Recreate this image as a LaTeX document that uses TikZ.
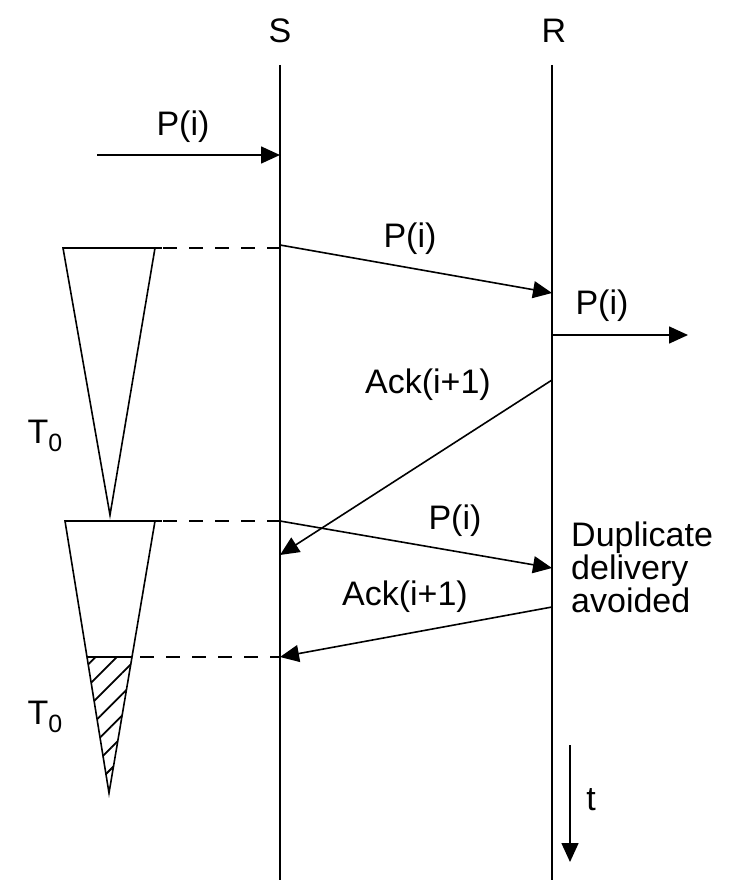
\documentclass[tikz,border=0pt]{standalone}
\usepackage{fontspec}
\setmainfont{Liberation Sans}
\usetikzlibrary{arrows.meta, patterns.meta}

\newcommand{\subzero}{\raisebox{-0.45ex}{\fontsize{25}{25}\selectfont 0}}

\begin{document}
\begin{tikzpicture}[x=1pt, y=-1pt,
  lbl/.style={font=\fontsize{34}{31}\selectfont, inner sep=0pt},
  msg/.style={line width=1.6pt, -{Triangle[length=19pt, width=17pt]}},
  life/.style={line width=1.6pt},
  dashline/.style={line width=1.6pt, dash pattern=on 14pt off 12pt},
  timer/.style={line width=1.6pt, line join=miter}
]
  \useasboundingbox (0,0) rectangle (734,880);

  % sender and receiver
  \node[lbl] (S) at (280,31) {S};
  \node[lbl] (R) at (554,31) {R};
  \coordinate (S-top) at (280,65);
  \coordinate (S-bot) at (280,880);
  \coordinate (R-top) at (552,65);
  \coordinate (R-bot) at (552,880);
  \draw[life] (S-top) -- (S-bot);
  \draw[life] (R-top) -- (R-bot);

  % points on the lines
  \coordinate (in) at (97,155);
  \coordinate (s1) at (280,155);
  \coordinate (s2) at (280,245);
  \coordinate (r1) at (552,293);
  \coordinate (r2) at (552,335);
  \coordinate (out) at (688,335);
  \coordinate (r3) at (552,380);
  \coordinate (s3) at (280,555);
  \coordinate (s4) at (280,521);
  \coordinate (r4) at (552,568);
  \coordinate (r5) at (552,607);
  \coordinate (s5) at (280,657);

  % messages
  \draw[msg] (in) -- (s1);
  \node[lbl] (p1) at (183,127) {P(i)};
  \draw[msg] (s2) -- (r1);
  \node[lbl] (p2) at (410,239) {P(i)};
  \draw[msg] (r2) -- (out);
  \node[lbl] (p3) at (602,306) {P(i)};
  \draw[msg] (r3) -- (s3);
  \node[lbl] (a1) at (428,385) {Ack(i+1)};
  \draw[msg] (s4) -- (r4);
  \node[lbl] (p4) at (455,521) {P(i)};
  \draw[msg] (r5) -- (s5);
  \node[lbl] (a2) at (405,597) {Ack(i+1)};

  \node[lbl, anchor=north west, align=left] (dup) at (571,522)
    {Duplicate\\delivery\\avoided};

  % timers
  \coordinate (t1-l) at (63,248);
  \coordinate (t1-r) at (155,248);
  \coordinate (t1-tip) at (110,515);
  \draw[timer] (t1-l) -- (t1-r) -- (t1-tip) -- cycle;
  \draw[timer] (t1-r) -- ++(7,0);
  \draw[dashline] (t1-r) ++(8,0) -- (280,248);
  \node[lbl] (T1) at (45,436) {T\subzero};

  \coordinate (t2-l) at (65,521);
  \coordinate (t2-r) at (155,521);
  \coordinate (t2-tip) at (109,793);
  \coordinate (h-l) at (87,657);
  \coordinate (h-r) at (132,657);
  \fill[pattern={Lines[angle=45, distance=15pt, line width=1.8pt]}]
    (h-l) -- (h-r) -- (t2-tip) -- cycle;
  \draw[timer] (t2-l) -- (t2-r) -- (t2-tip) -- cycle;
  \draw[timer] (t2-r) -- ++(7,0);
  \draw[timer] (h-l) -- (h-r);
  \draw[dashline] (t2-r) ++(8,0) -- (s4);
  \draw[dashline] (h-r) ++(8,0) -- (s5);
  \node[lbl] (T2) at (45,717) {T\subzero};

  % time
  \coordinate (t-top) at (570,745);
  \coordinate (t-bot) at (570,862);
  \draw[msg] (t-top) -- (t-bot);
  \node[lbl] (t) at (591,800) {t};
\end{tikzpicture}
\end{document}
